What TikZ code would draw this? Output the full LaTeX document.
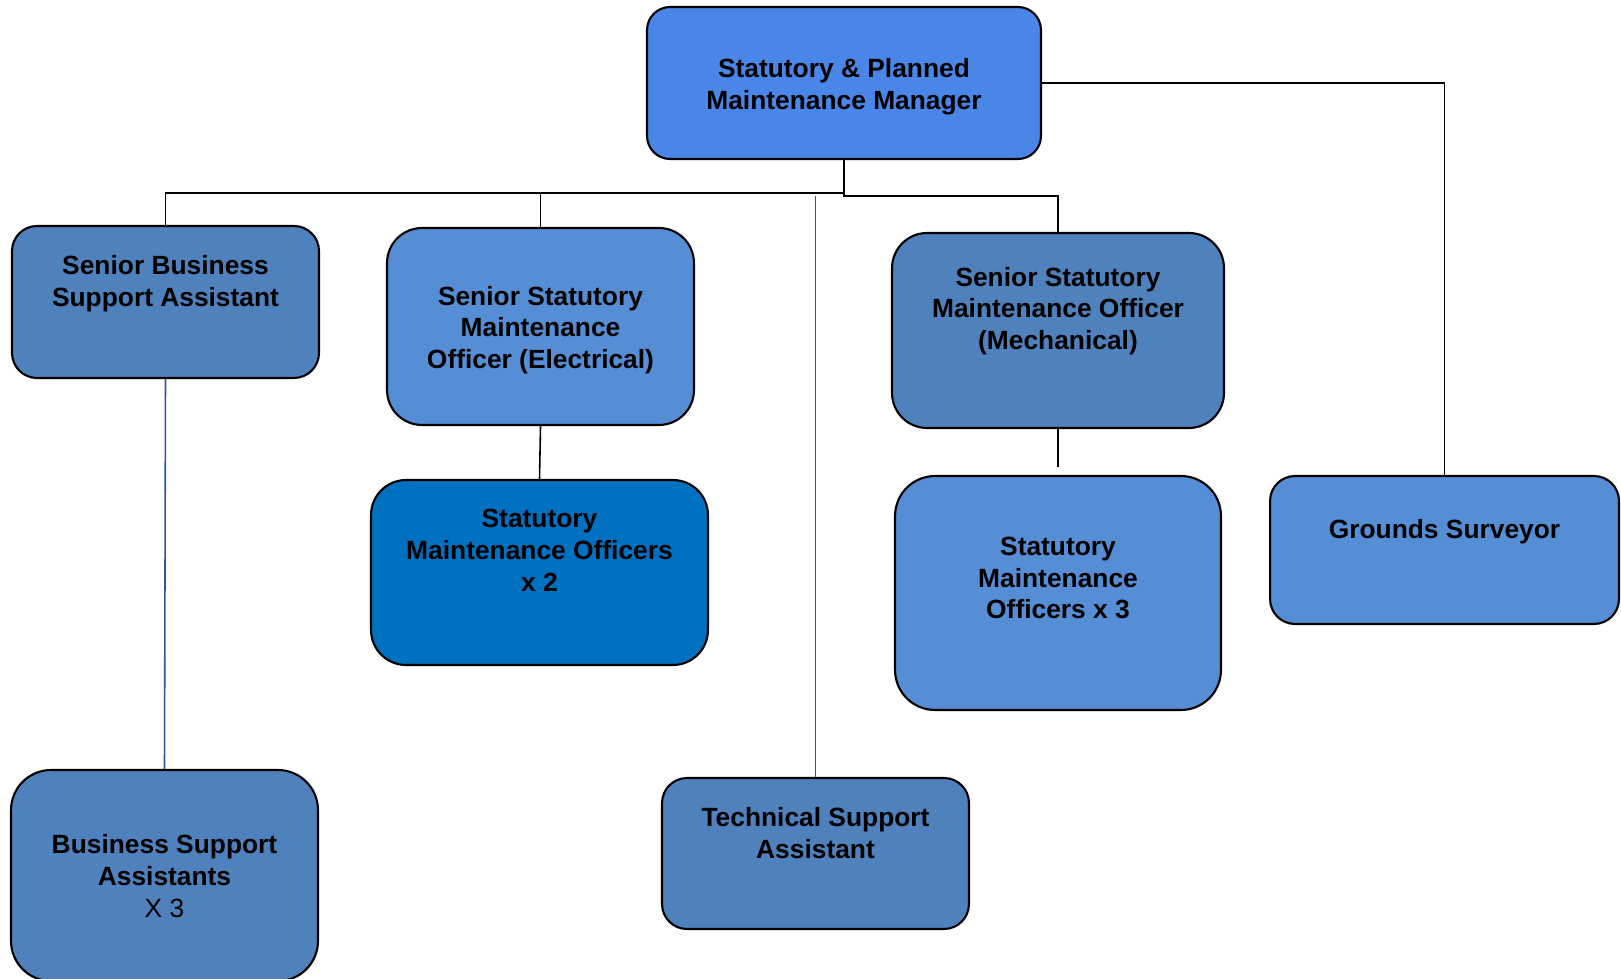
\documentclass[tikz,border=0pt]{standalone}
\usepackage{fontspec}
\setmainfont{Liberation Sans}
\definecolor{mgrblue}{HTML}{4A86E8}
\definecolor{steelblue}{HTML}{4F81BD}
\definecolor{lightblue}{HTML}{558ED5}
\definecolor{deepblue}{HTML}{0070C0}
\definecolor{linkblue}{HTML}{2F5597}
\begin{document}
\begin{tikzpicture}[x=0.02cm, y=-0.02cm,
	post/.style={draw=black, line width=1.2pt, inner sep=0pt},
	txt/.style={font=\fontsize{15}{18.1}\selectfont\bfseries, align=center, inner sep=0pt},
	conn/.style={draw=black, line width=0.9pt},
	bluelink/.style={draw=linkblue, line width=0.9pt}]
	\useasboundingbox (0, 0) rectangle (1621, 979);
	\node[post, fill=mgrblue, rounded corners=0.46cm, minimum width=7.88cm, minimum height=3.04cm] (mgr) at (844, 83) {};
	\node[post, fill=steelblue, rounded corners=0.5cm, minimum width=6.14cm, minimum height=3.04cm] (sbsa) at (165.5, 302) {};
	\node[post, fill=lightblue, rounded corners=0.7cm, minimum width=6.14cm, minimum height=3.94cm] (elec) at (540.5, 326.5) {};
	\node[post, fill=deepblue, rounded corners=0.7cm, minimum width=6.74cm, minimum height=3.7cm] (smo2) at (539.5, 572.5) {};
	\node[post, fill=steelblue, rounded corners=0.7cm, minimum width=6.64cm, minimum height=3.9cm] (mech) at (1058, 330.5) {};
	\node[post, fill=lightblue, rounded corners=0.8cm, minimum width=6.52cm, minimum height=4.68cm] (smo3) at (1058, 593) {};
	\node[post, fill=lightblue, rounded corners=0.5cm, minimum width=6.98cm, minimum height=2.96cm] (grounds) at (1444.5, 550) {};
	\node[post, fill=steelblue, rounded corners=0.5cm, minimum width=6.14cm, minimum height=3.02cm] (tech) at (815.5, 853.5) {};
	\node[post, fill=steelblue, rounded corners=0.8cm, minimum width=6.14cm, minimum height=4.22cm] (bsa) at (164.5, 875.5) {};
	\node[txt] (mgr-t) at (844, 87) {Statutory \& Planned\\Maintenance Manager};
	\node[txt] (sbsa-t) at (165.5, 284) {Senior Business\\Support Assistant};
	\node[txt] (elec-t) at (540.5, 330) {Senior Statutory\\Maintenance\\Officer (Electrical)};
	\node[txt] (smo2-t) at (539.5, 550) {Statutory\\Maintenance Officers\\x 2};
	\node[txt] (mech-t) at (1058, 311) {Senior Statutory\\Maintenance Officer\\(Mechanical)};
	\node[txt] (smo3-t) at (1058, 578) {Statutory\\Maintenance\\Officers x 3};
	\node[txt] (grounds-t) at (1444.5, 532) {Grounds Surveyor};
	\node[txt] (tech-t) at (815.5, 833) {Technical Support\\Assistant};
	\node[txt] (bsa-t) at (164.5, 876) {Business Support\\Assistants\\{\mdseries X 3}};
	\coordinate (busl) at (844, 193);
	\coordinate (busr) at (844, 196);
	\coordinate (mechgap) at (1058, 467);
	\draw[conn] (mgr.south) -- (busl) -| (sbsa.north);
	\draw[conn] (elec.north) -- (elec.north |- busl);
	\draw[conn] (mgr.south) -- (busr) -| (mech.north);
	\draw[conn] (mgr.east) -| (grounds.north);
	\draw[conn] (elec.south) -- (smo2.north);
	\draw[conn] (mech.south) -- (mechgap);
	\draw[bluelink] (tech.north |- busr) -- (tech.north);
	\draw[bluelink] (sbsa.south) -- (bsa.north);
\end{tikzpicture}
\end{document}
